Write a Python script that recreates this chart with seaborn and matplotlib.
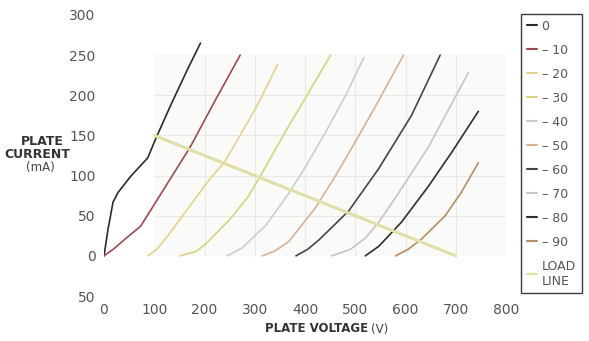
import pandas as pd
import matplotlib.pyplot as plt
import seaborn as sns

# grid voltages (legend labels) and curve colours
grid_labels = ["0", "– 10", "– 20", "– 30", "– 40", "– 50", "– 60", "– 70", "– 80", "– 90"]
curve_colors = ["#2b2b2b", "#9c4a52", "#e3d38c", "#d9d27e", "#c9ced4",
                "#d9b394", "#474747", "#cbc3c3", "#2f2f2f", "#b58f62"]

# plate curves: plate voltage (V), plate current (mA)
v_g0 = [0, 8, 18, 28, 53, 87, 103, 133, 166, 192]
i_g0 = [0, 33, 67, 79, 99, 122, 146, 188, 232, 265]
v_g10 = [0, 20, 42, 73, 103, 140, 172, 219, 271]
i_g10 = [0, 9, 21, 37, 67, 104, 136, 191, 250]
v_g20 = [87, 105, 127, 166, 206, 241, 269, 309, 345]
i_g20 = [0, 8, 25, 58, 92, 118, 148, 192, 238]
v_g30 = [152, 185, 206, 251, 285, 309, 354, 402, 451]
i_g30 = [0, 6, 17, 46, 72, 97, 147, 198, 250]
v_g40 = [245, 275, 322, 368, 402, 441, 481, 517]
i_g40 = [0, 10, 38, 78, 112, 154, 200, 247]
v_g50 = [315, 340, 368, 421, 461, 501, 540, 596]
i_g50 = [0, 6, 18, 60, 100, 143, 186, 250]
v_g60 = [382, 405, 428, 487, 546, 612, 669]
i_g60 = [0, 8, 20, 56, 108, 175, 250]
v_g70 = [453, 490, 520, 547, 586, 646, 725]
i_g70 = [0, 8, 22, 42, 78, 136, 228]
v_g80 = [520, 547, 592, 646, 692, 745]
i_g80 = [0, 12, 42, 87, 129, 180]
v_g90 = [580, 605, 632, 679, 711, 745]
i_g90 = [0, 8, 21, 50, 79, 116]

load_v = [100, 700]
load_i = [150, 0]

x_ticks = [0, 100, 200, 300, 400, 500, 600, 700, 800]
y_ticks = [-50, 0, 50, 100, 150, 200, 250, 300]
y_tick_labels = ["50", "0", "50", "100", "150", "200", "250", "300"]

curves_v = [v_g0, v_g10, v_g20, v_g30, v_g40, v_g50, v_g60, v_g70, v_g80, v_g90]
curves_i = [i_g0, i_g10, i_g20, i_g30, i_g40, i_g50, i_g60, i_g70, i_g80, i_g90]

rows = []
for lab, vs, cs in zip(grid_labels, curves_v, curves_i):
    for v, c in zip(vs, cs):
        rows.append({"grid": lab, "voltage": v, "current": c})
df = pd.DataFrame(rows)

sns.set_style("white")
plt.rcParams["font.family"] = ["DejaVu Sans"]

fig = plt.figure(figsize=(5.89, 3.41), dpi=100)
ax = fig.add_axes([104 / 589, 1 - 296 / 341, 402 / 589, 281 / 341])

# faint printed grid behind the curves
ax.add_patch(plt.Rectangle((100, 0), 725, 252, color="#fafaf9", zorder=0, lw=0))
ax.vlines([200, 300, 400, 500, 600, 700], 0, 250, color="#e8e8e4", lw=0.8, zorder=0.5)
ax.hlines([50, 100, 150, 200], 100, 800, color="#e8e8e4", lw=0.8, zorder=0.5)

sns.lineplot(data=df, x="voltage", y="current", hue="grid", hue_order=grid_labels,
             palette=dict(zip(grid_labels, curve_colors)), sort=False,
             estimator=None, units="grid", lw=1.2, ax=ax, legend=False)
sns.lineplot(x=load_v, y=load_i, color="#e2dea6", lw=2.2, ax=ax, sort=False)

ax.set_xlim(0, 800)
ax.set_ylim(-50, 300)
ax.set_xticks(x_ticks)
ax.set_yticks(y_ticks)
ax.set_yticklabels(y_tick_labels)
ax.tick_params(length=0, labelsize=10, labelcolor="#555555")
ax.tick_params(axis="x", pad=5)
ax.tick_params(axis="y", pad=6)
for s in ax.spines.values():
    s.set_visible(False)
ax.set_xlabel("")
ax.set_ylabel("")

# axis titles
fig.text(42 / 589, 1 - 141 / 341, "PLATE", ha="center", va="center",
         fontsize=9, weight="bold", color="#333333")
fig.text(37 / 589, 1 - 155 / 341, "CURRENT", ha="center", va="center",
         fontsize=9, weight="bold", color="#333333")
fig.text(40 / 589, 1 - 168 / 341, "(mA)", ha="center", va="center",
         fontsize=8.5, color="#444444")
fig.text(368 / 589, 1 - 329 / 341, "PLATE VOLTAGE", ha="right", va="center",
         fontsize=8.5, weight="bold", color="#333333")
fig.text(371 / 589, 1 - 329 / 341, "(V)", ha="left", va="center",
         fontsize=8.5, color="#444444")

# legend box on the right
handles = [plt.Line2D([], [], color=c, lw=1.5) for c in curve_colors]
handles.append(plt.Line2D([], [], color="#e2dea6", lw=1.5))
labels = grid_labels + ["LOAD\nLINE"]
leg = fig.legend(handles, labels, loc="upper left",
                 bbox_to_anchor=(521 / 589, 1 - 14 / 341), fontsize=9,
                 handlelength=0.8, handletextpad=0.4, labelspacing=0.88,
                 borderpad=0.45, borderaxespad=0, frameon=True, fancybox=False,
                 framealpha=1)
leg.get_frame().set_edgecolor("#3a3a3a")
leg.get_frame().set_linewidth(1.0)
for t in leg.get_texts():
    t.set_color("#555555")

fig.savefig("out.png", dpi=100)
